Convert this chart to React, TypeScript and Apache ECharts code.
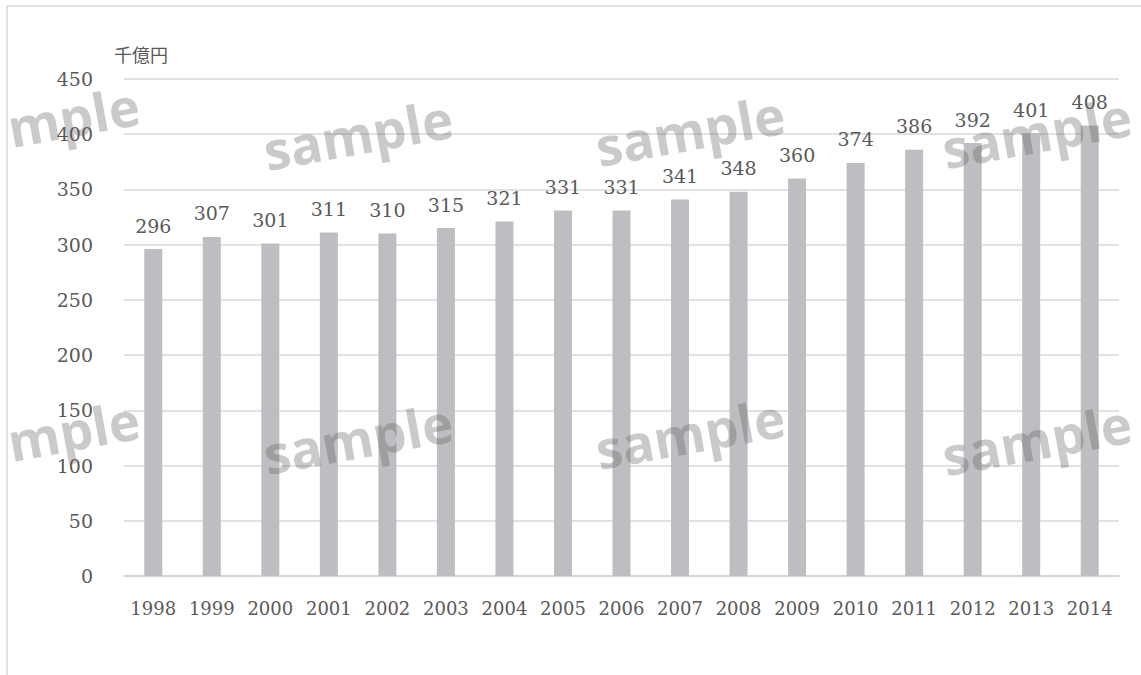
import React, { useEffect, useRef } from "react";
import * as echarts from "echarts";

const categories = ["1998","1999","2000","2001","2002","2003","2004","2005","2006","2007","2008","2009","2010","2011","2012","2013","2014"];
const values = [296,307,301,311,310,315,321,331,331,341,348,360,374,386,392,401,408];
const unitLabel = "千億円";
// watermark: [text, x, y, align]
const watermarkSpots: [string, number, number, string][] = [
  ["mple", 8, 128, "left"], ["sample", 358, 134, "center"], ["sample", 690, 130, "center"], ["sample", 1131, 115, "right"],
  ["mple", 8, 442, "left"], ["sample", 358, 438, "center"], ["sample", 690, 433, "center"], ["sample", 1131, 422, "right"],
];

export default function App() {
  const ref = useRef<HTMLDivElement>(null);
  useEffect(() => {
    document.body.style.margin = "0";
    const chart = echarts.init(ref.current!, null, { renderer: "svg" });
    const serif = "'DejaVu Serif', serif";
    const textColor = "#595959";
    const watermarks = watermarkSpots.map(([t, x, y, align]) => ({
      type: "text",
      x, y,
      rotation: 0.18,
      z: 100,
      silent: true,
      style: {
        text: t,
        font: "bold 53px 'Open Sans', sans-serif",
        fill: "rgba(90,90,90,0.32)",
        align,
        verticalAlign: "middle",
      },
    }));
    chart.setOption({
      animation: false,
      backgroundColor: "#ffffff",
      grid: { left: 124, right: 22, top: 79, bottom: 99 },
      xAxis: {
        type: "category",
        data: categories,
        axisLine: { show: true, lineStyle: { color: "#d0d0d0", width: 1.5 } },
        axisTick: { show: false },
        axisLabel: { color: textColor, fontFamily: serif, fontSize: 18, margin: 23, interval: 0 },
      },
      yAxis: {
        type: "value",
        min: 0,
        max: 450,
        interval: 50,
        axisLine: { show: false },
        axisTick: { show: false },
        axisLabel: { color: textColor, fontFamily: serif, fontSize: 19, margin: 31 },
        splitLine: { lineStyle: { color: "#d9d9d9", width: 1.5 } },
      },
      series: [
        {
          type: "bar",
          data: values,
          barWidth: 18,
          itemStyle: { color: "#bdbec2" },
          label: {
            show: true,
            position: "top",
            distance: 14,
            color: textColor,
            fontFamily: serif,
            fontSize: 19,
          },
        },
      ],
      graphic: [
        {
          type: "rect",
          shape: { x: 7, y: 6, width: 1300, height: 900 },
          style: { fill: "none", stroke: "#d9d9d9", lineWidth: 1.5 },
          silent: true,
          z: -10,
        },
        {
          type: "text",
          x: 114,
          y: 54,
          style: {
            text: unitLabel,
            font: "18px 'Noto Sans CJK JP', sans-serif",
            fill: textColor,
            verticalAlign: "middle",
          },
        },
        ...watermarks,
      ],
    });
    return () => chart.dispose();
  }, []);
  return <div ref={ref} style={{ width: 1141, height: 675 }} />;
}
